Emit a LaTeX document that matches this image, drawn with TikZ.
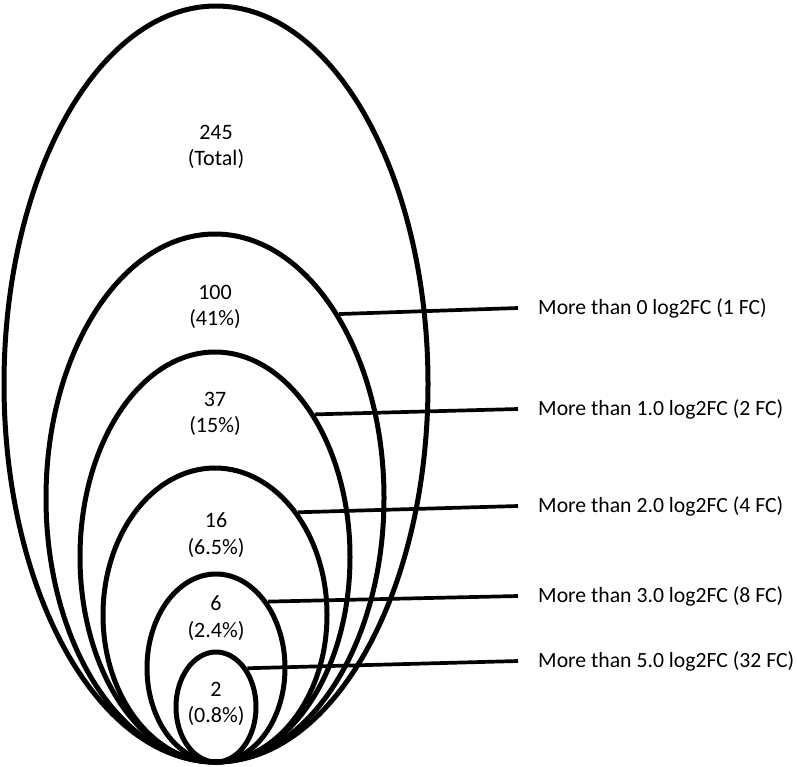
\documentclass[tikz,border=0pt]{standalone}
\usepackage{fontspec}
\setmainfont{Carlito}
\usetikzlibrary{shapes.geometric}

\tikzset{
    ring/.style={draw, ellipse, line width=5pt, inner sep=0pt},
    count/.style={align=center, font=\fontsize{22}{26.5}\selectfont},
    cutoff/.style={anchor=west, inner sep=0pt, font=\fontsize{21.7}{26}\selectfont},
    lead/.style={line width=3.7pt}
}

\begin{document}
\begin{tikzpicture}[x=1pt, y=-1pt]
        \useasboundingbox (0,0) rectangle (797,766);

        % nested ellipses, all touching at the bottom
        \node[ring, minimum width=424pt, minimum height=756pt] (e1) at (216,384) {};
        \node[ring, minimum width=338pt, minimum height=528pt] (e2) at (215,498) {};
        \node[ring, minimum width=270pt, minimum height=410pt] (e3) at (215,557) {};
        \node[ring, minimum width=224pt, minimum height=294pt] (e4) at (215,615) {};
        \node[ring, minimum width=138pt, minimum height=188pt] (e5) at (216,668) {};
        \node[ring, minimum width=80pt, minimum height=110pt] (e6) at (216,707) {};

        \node[count] (n1) at (216,147) {245\\(Total)};
        \node[count] (n2) at (215,307) {100\\(41\%)};
        \node[count] (n3) at (215,414) {37\\(15\%)};
        \node[count] (n4) at (216,535) {16\\(6.5\%)};
        \node[count] (n5) at (216,618) {6\\(2.4\%)};
        \node[count] (n6) at (216,704) {2\\(0.8\%)};

        \node[cutoff] (t2) at (538,308) {More than 0 log2FC (1 FC)};
        \node[cutoff] (t3) at (538,409) {More than 1.0 log2FC (2 FC)};
        \node[cutoff] (t4) at (538,506) {More than 2.0 log2FC (4 FC)};
        \node[cutoff] (t5) at (538,596) {More than 3.0 log2FC (8 FC)};
        \node[cutoff] (t6) at (538,661) {More than 5.0 log2FC (32 FC)};

        \draw[lead] (e2.56) -- ([xshift=-20pt]t2.west);
        \draw[lead] (e3.55) -- ([xshift=-20pt]t3.west);
        \draw[lead] (e4.51) -- ([xshift=-20pt]t4.west);
        \draw[lead] (e5.52) -- ([xshift=-20pt]t5.west);
        \draw[lead] (e6.51) -- ([xshift=-20pt]t6.west);
    \end{tikzpicture}
\end{document}
